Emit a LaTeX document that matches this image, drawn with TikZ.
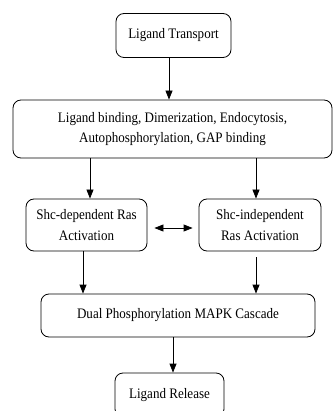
\documentclass[tikz,border=0pt]{standalone}
\usepackage{fontspec}
\setmainfont{Liberation Serif}
\newfontfamily\tfont[FakeStretch=0.9]{Liberation Serif}
\usetikzlibrary{arrows.meta}
\begin{document}
\begin{tikzpicture}[x=1pt,y=-1pt,
  box/.style={draw,rounded corners=8pt,line width=0.8pt,inner sep=0pt,align=center,
    font=\tfont\fontsize{14.5}{20.5}\selectfont},
  arr/.style={line width=0.8pt,-{Triangle[width=7pt,length=9pt]}},
  darr/.style={line width=0.8pt,{Triangle[width=7pt,length=9pt]}-{Triangle[width=7pt,length=9pt]}}]
\useasboundingbox (0,0) rectangle (333,411);
\clip (0,0) rectangle (333,411);
\node[box,minimum width=115pt,minimum height=44pt] (b1) at (173.5,35.5) {Ligand Transport};
\node[box,minimum width=319pt,minimum height=58pt] (b2) at (172.5,129) {Ligand binding, Dimerization, Endocytosis,\\Autophosphorylation, GAP binding};
\node[box,minimum width=121pt,minimum height=52pt] (b3) at (86.5,225) {Shc-dependent Ras\\Activation};
\node[box,minimum width=122pt,minimum height=52pt] (b4) at (260,225) {Shc-independent\\Ras Activation};
\node[box,minimum width=274pt,minimum height=43pt] (b5) at (178,315.5) {Dual Phosphorylation MAPK Cascade};
\node[box,minimum width=109pt,minimum height=44pt] (b6) at (169.5,395) {Ligand Release};
\draw[arr] ([xshift=-4.5pt]b1.south) -- ([xshift=-4.5pt]b1.south |- b2.north);
\draw[arr] (b2.south -| b3.north) ++(3.5,0) coordinate (t1) -- (t1 |- b3.north);
\draw[arr] ([xshift=-4pt]b4.north |- b2.south) -- ([xshift=-4pt]b4.north);
\draw[darr] ([xshift=7pt,yshift=-3pt]b3.east) -- ([xshift=-6pt,yshift=-3pt]b4.west);
\draw[arr] ([xshift=-3.5pt]b3.south) -- ([xshift=-3.5pt]b3.south |- b5.north);
\draw[arr] ([xshift=-4pt,yshift=-6pt]b4.south) -- ([xshift=-4pt]b4.south |- b5.north);
\draw[arr] ([xshift=-5pt]b5.south) -- ([xshift=-5pt]b5.south |- b6.north);
\end{tikzpicture}
\end{document}
